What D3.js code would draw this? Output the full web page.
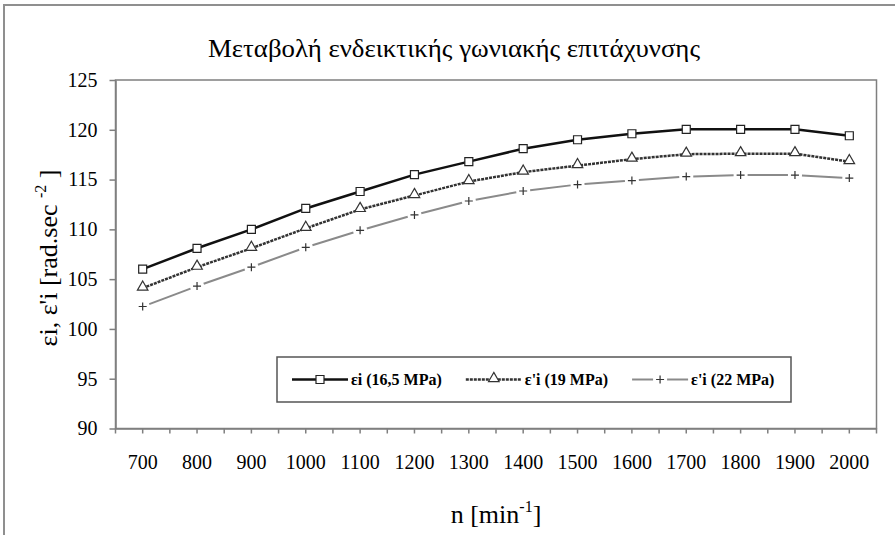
<!DOCTYPE html>
<html>
<head>
<meta charset="utf-8">
<script src="https://cdn.jsdelivr.net/npm/d3@7/dist/d3.min.js"></script>
</head>
<body style="margin:0">
<svg id="chart" width="895" height="535" font-family="Times New Roman"></svg>
<script>
// values
var categories = [700, 800, 900, 1000, 1100, 1200, 1300, 1400, 1500, 1600, 1700, 1800, 1900, 2000];
var seriesNames = ["εi (16,5 MPa)", "ε'i (19 MPa)", "ε'i (22 MPa)"];
var series1 = [106, 108.1, 110, 112.1, 113.8, 115.5, 116.8, 118.1, 119, 119.6, 120.05, 120.05, 120.05, 119.4];
var series2 = [104.1, 106.2, 108.1, 110.1, 112, 113.4, 114.8, 115.75, 116.4, 117.05, 117.55, 117.6, 117.6, 116.8];
var series3 = [102.25, 104.3, 106.2, 108.2, 109.9, 111.45, 112.85, 113.85, 114.5, 114.9, 115.3, 115.45, 115.45, 115.15];
var yTicks = [90, 95, 100, 105, 110, 115, 120, 125];
var titleText = "Μεταβολή ενδεικτικής γωνιακής επιτάχυνσης";

var fontName = "Times New Roman";

var drawChart = function(svgSelector)
{
  var plot = { left: 115.5, right: 876.5, top: 80, bottom: 428.5 };
  var axisColor = "#7f7f7f";

  var svg = d3.select(svgSelector);

  // outer chart border (runs off the right / bottom edge)
  svg.append("rect")
     .attr("x", 4).attr("y", 5)
     .attr("width", 930).attr("height", 570)
     .attr("fill", "white")
     .attr("stroke", "#8f8f8f")
     .attr("stroke-width", 2);

  var x = d3.scaleBand().domain(categories).range([plot.left, plot.right]);
  var y = d3.scaleLinear().domain([90, 125]).range([plot.bottom, plot.top]);
  var cx = function(d, i) { return x(categories[i]) + x.bandwidth() / 2; };

  // plot frame
  svg.append("rect")
     .attr("x", plot.left).attr("y", plot.top)
     .attr("width", plot.right - plot.left)
     .attr("height", plot.bottom - plot.top)
     .attr("fill", "none")
     .attr("stroke", axisColor)
     .attr("stroke-width", 1.5);

  // y axis
  var yAxis = svg.append("g")
                 .attr("transform", "translate(" + plot.left + ",0)")
                 .call(d3.axisLeft(y).tickValues(yTicks).tickSize(6).tickSizeOuter(0).tickPadding(12));
  yAxis.attr("font-family", fontName).attr("font-size", 20);
  yAxis.selectAll("text").attr("fill", "#000");

  // x axis: labels at category centres, ticks also on the band edges
  var xAxis = svg.append("g")
                 .attr("transform", "translate(0," + plot.bottom + ")")
                 .call(d3.axisBottom(x).tickSize(5).tickSizeOuter(0).tickPadding(21));
  xAxis.attr("font-family", fontName).attr("font-size", 20);
  xAxis.selectAll("text").attr("fill", "#000");
  xAxis.selectAll(".edge")
       .data(categories.concat(["end"]))
       .enter()
       .append("line")
       .attr("x1", function(d, i) { return i < categories.length ? x(d) : plot.right; })
       .attr("x2", function(d, i) { return i < categories.length ? x(d) : plot.right; })
       .attr("y1", 0).attr("y2", 5)
       .attr("stroke", axisColor);

  svg.selectAll(".domain, .tick line")
     .attr("stroke", axisColor)
     .attr("stroke-width", 1.5);
  xAxis.selectAll("line").attr("stroke-width", 1.5);

  var line = d3.line().x(cx).y(function(d) { return y(d); });

  // series 1 – black solid, squares
  svg.append("path")
     .datum(series1)
     .attr("d", line)
     .attr("fill", "none")
     .attr("stroke", "#111")
     .attr("stroke-width", 2.5);

  // series 2 – dark textured line, triangles
  svg.append("path")
     .datum(series2)
     .attr("d", line)
     .attr("fill", "none")
     .attr("stroke", "#333")
     .attr("stroke-width", 2.5)
     .attr("stroke-dasharray", "3,1");

  // series 3 – grey dashes broken around each marker
  var gap = 7;
  var segs = d3.pairs(series3.map(function(v, i) { return [cx(v, i), y(v)]; }));
  svg.append("g")
     .selectAll("line")
     .data(segs)
     .enter()
     .append("line")
     .each(function(s) {
        var dx = s[1][0] - s[0][0], dy = s[1][1] - s[0][1];
        var len = Math.sqrt(dx * dx + dy * dy);
        var ux = dx / len, uy = dy / len;
        d3.select(this)
          .attr("x1", s[0][0] + ux * gap).attr("y1", s[0][1] + uy * gap)
          .attr("x2", s[1][0] - ux * gap).attr("y2", s[1][1] - uy * gap);
     })
     .attr("stroke", "#8a8a8a")
     .attr("stroke-width", 2);

  var square = d3.symbol().type(d3.symbolSquare).size(64);
  var triangle = d3.symbol().type(d3.symbolTriangle).size(48);
  var plus = "M-4,0H4M0,-4V4";

  svg.append("g").selectAll("path")
     .data(series1).enter().append("path")
     .attr("d", square)
     .attr("transform", function(d, i) { return "translate(" + cx(d, i) + "," + y(d) + ")"; })
     .attr("fill", "white").attr("stroke", "#222").attr("stroke-width", 1.2);

  svg.append("g").selectAll("path")
     .data(series2).enter().append("path")
     .attr("d", triangle)
     .attr("transform", function(d, i) { return "translate(" + cx(d, i) + "," + (y(d) - 1) + ")"; })
     .attr("fill", "white").attr("stroke", "#333").attr("stroke-width", 1.2);

  svg.append("g").selectAll("path")
     .data(series3).enter().append("path")
     .attr("d", plus)
     .attr("transform", function(d, i) { return "translate(" + cx(d, i) + "," + y(d) + ")"; })
     .attr("fill", "none").attr("stroke", "#333").attr("stroke-width", 1.2);

  // title
  svg.append("text")
     .attr("x", 208).attr("y", 57)
     .attr("font-family", fontName)
     .attr("font-size", 25)
     .attr("textLength", 492)
     .attr("lengthAdjust", "spacingAndGlyphs")
     .text(titleText);

  // y axis title
  var yTitle = svg.append("text")
                  .attr("transform", "translate(57,258) rotate(-90)")
                  .attr("text-anchor", "middle")
                  .attr("font-family", fontName)
                  .attr("font-size", 26);
  yTitle.append("tspan").text("εi, ε'i [rad.sec ");
  yTitle.append("tspan").attr("font-size", 16).attr("dy", -11).text("-2");
  yTitle.append("tspan").attr("dy", 11).text(" ]");

  // x axis title
  var xTitle = svg.append("text")
                  .attr("x", 496).attr("y", 523)
                  .attr("text-anchor", "middle")
                  .attr("font-family", fontName)
                  .attr("font-size", 26);
  xTitle.append("tspan").text("n [min");
  xTitle.append("tspan").attr("font-size", 16).attr("dy", -11).text("-1");
  xTitle.append("tspan").attr("dy", 11).text("]");

  // legend
  var legend = svg.append("g").classed("legend", true);
  legend.append("rect")
        .attr("x", 277).attr("y", 357)
        .attr("width", 514).attr("height", 45)
        .attr("fill", "white")
        .attr("stroke", "#555")
        .attr("stroke-width", 1.5);

  var legendY = 379.5;
  var cursor = 292;
  var sampleLen = 56;
  seriesNames.forEach(function(name, i)
  {
    var g = legend.append("g");
    if (i === 0) {
      g.append("line").attr("x1", cursor).attr("x2", cursor + sampleLen)
       .attr("y1", legendY).attr("y2", legendY)
       .attr("stroke", "#111").attr("stroke-width", 2.5);
      g.append("path").attr("d", square)
       .attr("transform", "translate(" + (cursor + sampleLen / 2) + "," + legendY + ")")
       .attr("fill", "white").attr("stroke", "#222").attr("stroke-width", 1.2);
    } else if (i === 1) {
      g.append("line").attr("x1", cursor).attr("x2", cursor + sampleLen)
       .attr("y1", legendY).attr("y2", legendY)
       .attr("stroke", "#333").attr("stroke-width", 2.5).attr("stroke-dasharray", "3,1");
      g.append("path").attr("d", triangle)
       .attr("transform", "translate(" + (cursor + sampleLen / 2) + "," + (legendY - 1) + ")")
       .attr("fill", "white").attr("stroke", "#333").attr("stroke-width", 1.2);
    } else {
      g.append("line").attr("x1", cursor).attr("x2", cursor + sampleLen / 2 - gap)
       .attr("y1", legendY).attr("y2", legendY)
       .attr("stroke", "#8a8a8a").attr("stroke-width", 2);
      g.append("line").attr("x1", cursor + sampleLen / 2 + gap).attr("x2", cursor + sampleLen)
       .attr("y1", legendY).attr("y2", legendY)
       .attr("stroke", "#8a8a8a").attr("stroke-width", 2);
      g.append("path").attr("d", plus)
       .attr("transform", "translate(" + (cursor + sampleLen / 2) + "," + legendY + ")")
       .attr("fill", "none").attr("stroke", "#333").attr("stroke-width", 1.2);
    }
    var t = g.append("text")
             .attr("x", cursor + sampleLen + 3)
             .attr("y", legendY + 5.5)
             .attr("font-family", fontName)
             .attr("font-size", 16)
             .attr("font-weight", "bold")
             .text(name);
    cursor = cursor + sampleLen + 3 + t.node().getComputedTextLength() + 24;
  });
}

drawChart("#chart");
</script>
</body>
</html>
